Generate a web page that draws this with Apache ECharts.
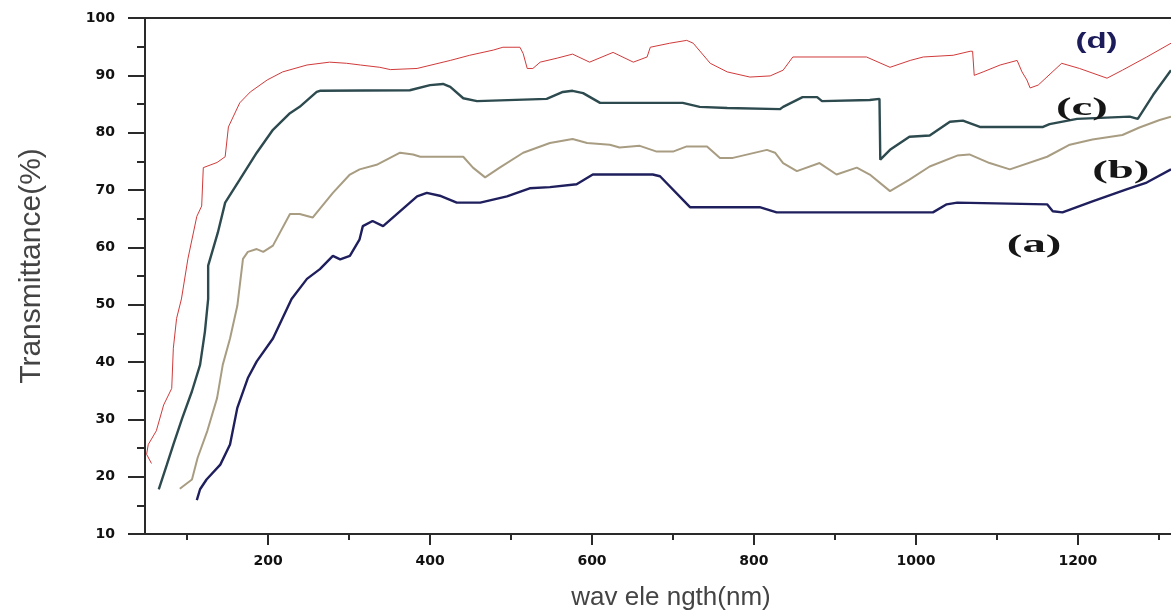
<!DOCTYPE html>
<html><head><meta charset="utf-8">
<script src="https://cdn.jsdelivr.net/npm/echarts@6/dist/echarts.min.js"></script>
<style>html,body{margin:0;padding:0;background:#fff}#c{width:1171px;height:616px}</style>
</head><body><div id="c"></div>
<script>
// tick values
const xMajorTicks = [200, 400, 600, 800, 1000, 1200];
const xMinorTicks = [100, 300, 500, 700, 900, 1100, 1300];
const yTicks = [10, 20, 30, 40, 50, 60, 70, 80, 90, 100];

// (a) navy curve: [wavelength nm, transmittance %]
const curveA = [[112,15.9],[116,17.8],[124,19.5],[141,22.1],[153,25.6],[162,32],[175,37.2],[186,40.1],[206,44.1],[229,51],[248,54.5],[264,56.2],[280,58.5],[289,57.9],[301,58.5],[313,61.4],[317,63.7],[329,64.6],[342,63.7],[384,68.9],[396,69.5],[412,69],[433,67.8],[462,67.8],[495,68.9],[523,70.3],[548,70.5],[581,71],[601,72.7],[675,72.7],[684,72.4],[721,67],[807,67],[828,66.1],[1021,66.1],[1038,67.5],[1051,67.8],[1162,67.5],[1169,66.3],[1181,66.1],[1218,68],[1260,70.1],[1285,71.3],[1315,73.6]];
// (b) tan curve
const curveB = [[91,17.9],[106,19.5],[113,23.3],[125,28],[137,33.7],[144,39.5],[153,44.1],[162,49.8],[169,58],[175,59.2],[186,59.7],[194,59.2],[206,60.3],[227,65.8],[239,65.8],[255,65.2],[280,69.5],[301,72.7],[313,73.6],[334,74.4],[363,76.5],[379,76.2],[388,75.8],[441,75.8],[453,73.9],[468,72.2],[486,73.9],[515,76.5],[548,78.2],[576,78.9],[594,78.2],[622,77.9],[634,77.4],[659,77.7],[680,76.7],[700,76.7],[717,77.6],[742,77.6],[758,75.6],[774,75.6],[816,77],[826,76.5],[836,74.7],[853,73.3],[881,74.7],[902,72.7],[927,73.9],[943,72.7],[968,69.8],[992,71.8],[1017,74.1],[1051,76],[1066,76.2],[1091,74.7],[1116,73.6],[1162,75.8],[1190,77.9],[1218,78.8],[1255,79.6],[1276,80.9],[1301,82.2],[1315,82.8]];
// (c) dark slate curve
const curveC = [[65,17.8],[75,22.1],[83,25.6],[94,30.2],[106,34.9],[116,39.5],[122,45.3],[126,51],[126,56.8],[138,62.6],[147,67.8],[165,71.8],[186,76.5],[206,80.5],[227,83.4],[239,84.5],[260,87.1],[264,87.3],[375,87.4],[400,88.3],[416,88.5],[425,88],[441,86],[458,85.5],[544,85.9],[564,87.1],[576,87.3],[589,86.9],[610,85.2],[712,85.2],[733,84.5],[767,84.3],[832,84.1],[836,84.5],[860,86.2],[878,86.2],[884,85.5],[943,85.7],[955,85.9],[956,75.3],[968,77],[992,79.3],[1017,79.5],[1042,81.9],[1058,82.1],[1079,81],[1157,81],[1165,81.5],[1199,82.4],[1264,82.8],[1274,82.4],[1293,86.6],[1315,90.9]];
// (d) red curve
const curveD = [[56,22.3],[50,23.9],[52,25.6],[62,28],[71,32.5],[81,35.4],[83,42.4],[87,47.6],[93,51],[101,58],[112,65.4],[118,67.2],[120,73.9],[137,74.8],[147,75.8],[151,81],[165,85.2],[178,87.1],[199,89.2],[218,90.6],[248,91.8],[276,92.3],[297,92.1],[314,91.8],[338,91.4],[351,91],[384,91.2],[425,92.6],[449,93.5],[478,94.4],[490,94.9],[511,94.9],[515,93.8],[520,91.2],[527,91.2],[536,92.3],[557,93],[576,93.7],[597,92.3],[626,94],[651,92.3],[668,93.2],[672,94.9],[696,95.6],[717,96.1],[725,95.6],[746,92.1],[767,90.6],[795,89.7],[820,89.9],[836,90.9],[848,93.2],[939,93.2],[968,91.4],[993,92.6],[1009,93.2],[1046,93.5],[1067,94.2],[1070,94.2],[1072,90],[1083,90.6],[1104,91.8],[1125,92.6],[1131,90.6],[1137,89.2],[1141,87.8],[1151,88.3],[1180,92.1],[1202,91.2],[1236,89.5],[1255,90.9],[1285,93.2],[1315,95.6]];

// curve annotations
const labelNames = ['(a)', '(b)', '(c)', '(d)'];
const labelCoords = [[1146, 60.4], [1253, 73.2], [1205, 84.3], [1223, 95.75]];

const X_MIN = 48, X_MAX = 1315;
const axisColor = '#2a2a2a';
const tickFont = {fontFamily: 'DejaVu Sans', fontWeight: 'bold', fontSize: 14, color: '#111',
  formatter: function (v) { return String(v); }};

const chart = echarts.init(document.getElementById('c'), null, {renderer: 'canvas'});
const option = {
  animation: false,
  backgroundColor: '#fff',
  grid: {left: 145, right: 0, top: 18, bottom: 79, containLabel: false},
  xAxis: [
    {
      type: 'value', position: 'bottom', min: X_MIN, max: X_MAX,
      name: 'wav ele ngth(nm)', nameLocation: 'middle', nameGap: 51,
      nameTextStyle: {fontFamily: 'Liberation Sans', fontSize: 26, color: '#444', padding: [0, 0, 0, 26]},
      axisLine: {show: true, onZero: false, lineStyle: {color: axisColor, width: 2}},
      axisTick: {show: true, inside: false, length: 11, customValues: xMajorTicks, lineStyle: {color: axisColor, width: 2}},
      axisLabel: Object.assign({show: true, margin: 20, customValues: xMajorTicks}, tickFont),
      splitLine: {show: false}
    },
    {
      type: 'value', position: 'bottom', min: X_MIN, max: X_MAX,
      axisLine: {show: false, onZero: false},
      axisTick: {show: true, inside: false, length: 6, customValues: xMinorTicks, lineStyle: {color: axisColor, width: 2}},
      axisLabel: {show: false},
      splitLine: {show: false}
    },
    {
      type: 'value', position: 'top', min: X_MIN, max: X_MAX,
      axisLine: {show: true, onZero: false, lineStyle: {color: axisColor, width: 2}},
      axisTick: {show: false}, axisLabel: {show: false}, splitLine: {show: false}
    }
  ],
  yAxis: {
    type: 'value', min: 10, max: 100, interval: 10,
    name: 'Transmittance(%)', nameLocation: 'middle', nameGap: 98,
    nameTextStyle: {fontFamily: 'Liberation Sans', fontSize: 30, color: '#444', padding: [0, 0, 0, 20]},
    axisLine: {show: true, onZero: false, lineStyle: {color: axisColor, width: 2}},
    axisTick: {show: true, inside: false, length: 17, lineStyle: {color: axisColor, width: 2}},
    minorTick: {show: true, splitNumber: 2, length: 8, lineStyle: {color: axisColor, width: 2}},
    axisLabel: Object.assign({show: true, margin: 30, customValues: yTicks}, tickFont),
    splitLine: {show: false}, minorSplitLine: {show: false}
  },
  series: [
    {name: '(a)', type: 'line', data: curveA, showSymbol: false, lineStyle: {color: '#1f1f5e', width: 2.4}, xAxisIndex: 0},
    {name: '(b)', type: 'line', data: curveB, showSymbol: false, lineStyle: {color: '#a89d82', width: 2}, xAxisIndex: 0},
    {name: '(c)', type: 'line', data: curveC, showSymbol: false, lineStyle: {color: '#2d4a4f', width: 2.4}, xAxisIndex: 0},
    {name: '(d)', type: 'line', data: curveD, showSymbol: false, lineStyle: {color: '#d03a3a', width: 1}, xAxisIndex: 0}
  ]
};
chart.setOption(option);

const labelStyles = [
  {font: 'bold 26px "Liberation Serif"', fill: '#161616', scaleX: 1.8},
  {font: 'bold 26px "Liberation Serif"', fill: '#161616', scaleX: 1.8},
  {font: 'bold 26px "Liberation Serif"', fill: '#161616', scaleX: 1.8},
  {font: 'bold 22px "Liberation Sans"', fill: '#1c1c5a', scaleX: 1.5}
];
const graphics = labelNames.map(function (t, i) {
  const p = chart.convertToPixel({seriesIndex: 0}, labelCoords[i]);
  return {
    type: 'text', x: p[0], y: p[1], scaleX: labelStyles[i].scaleX, z: 100,
    style: {text: t, font: labelStyles[i].font, fill: labelStyles[i].fill,
      align: 'center', verticalAlign: 'middle', textAlign: 'center', textVerticalAlign: 'middle'}
  };
});
chart.setOption({graphic: graphics});
</script>
</body></html>
